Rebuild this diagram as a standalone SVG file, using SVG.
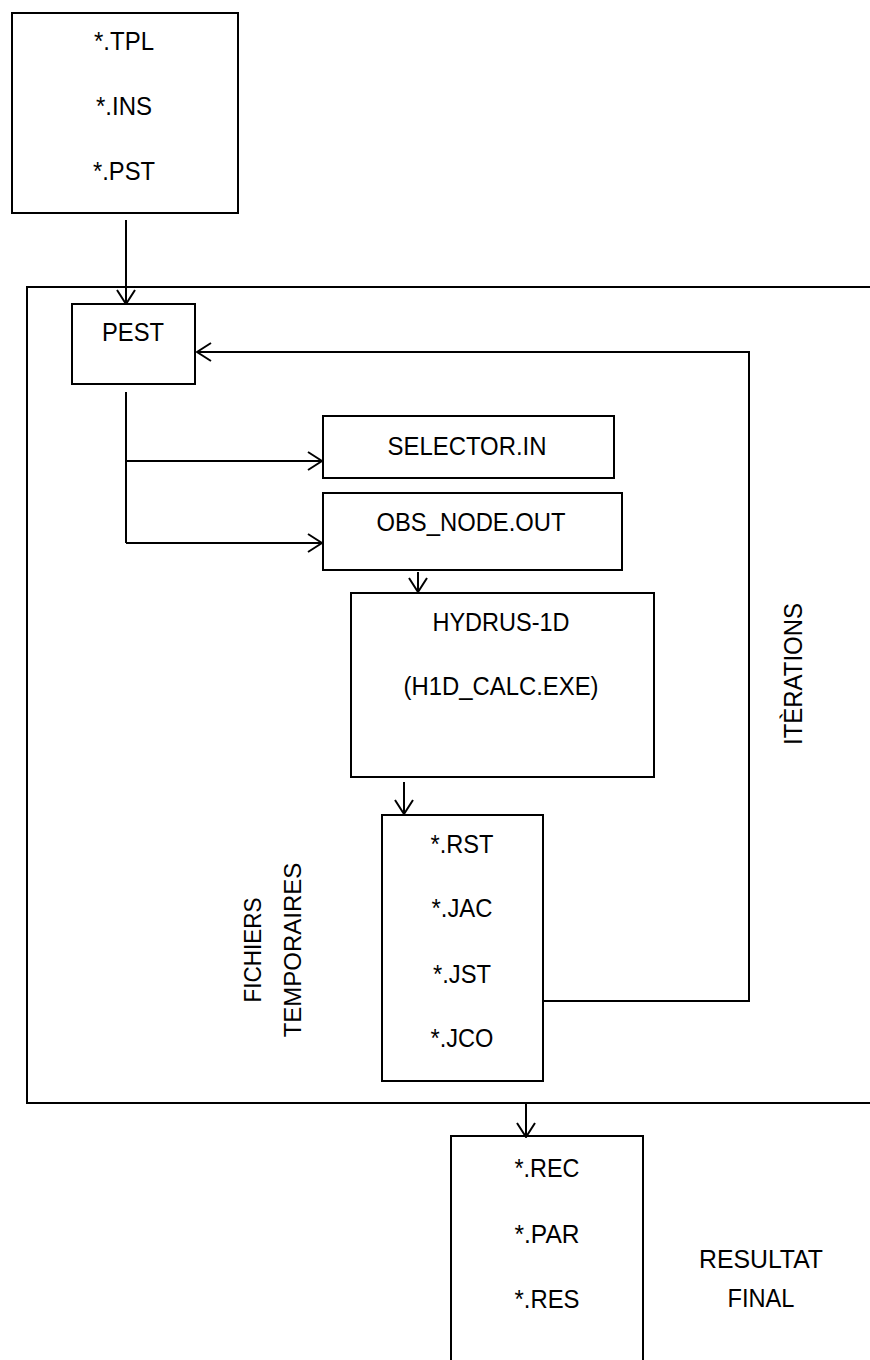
<svg xmlns="http://www.w3.org/2000/svg" width="870" height="1360" viewBox="0 0 870 1360">
<defs>
<style>
.box{fill:#fff;stroke:#000;stroke-width:2}
.ln{fill:none;stroke:#000;stroke-width:2}
.t{font-family:"Liberation Sans",Arial,sans-serif;font-size:25.5px;fill:#000;text-anchor:middle}
.r{font-family:"Liberation Sans",Arial,sans-serif;font-size:24px;fill:#000;text-anchor:middle}
</style>
<marker id="ah" viewBox="0 0 16 20" refX="15" refY="10" markerWidth="16" markerHeight="20" markerUnits="userSpaceOnUse" orient="auto">
<path d="M1,1 L15,10 L1,19" fill="none" stroke="#000" stroke-width="2"/>
</marker>
</defs>
<rect width="870" height="1360" fill="#fff"/>
<g id="outer"><rect class="box" x="27" y="287" width="860" height="816" fill="none"/></g>
<g id="inputs">
<rect class="box" x="12" y="13" width="226" height="200"/>
<text class="t" x="124" y="50" textLength="60" lengthAdjust="spacingAndGlyphs">*.TPL</text>
<text class="t" x="124" y="115" textLength="56" lengthAdjust="spacingAndGlyphs">*.INS</text>
<text class="t" x="124" y="180" textLength="62" lengthAdjust="spacingAndGlyphs">*.PST</text>
</g>
<g id="pest">
<rect class="box" x="72" y="304" width="123" height="80"/>
<text class="t" x="133" y="341" textLength="62" lengthAdjust="spacingAndGlyphs">PEST</text>
</g>
<g id="selector">
<rect class="box" x="323" y="416" width="291" height="62"/>
<text class="t" x="467" y="455" textLength="159" lengthAdjust="spacingAndGlyphs">SELECTOR.IN</text>
</g>
<g id="obsnode">
<rect class="box" x="323" y="493" width="299" height="77"/>
<text class="t" x="471" y="531" textLength="189" lengthAdjust="spacingAndGlyphs">OBS_NODE.OUT</text>
</g>
<g id="hydrus">
<rect class="box" x="351" y="593" width="303" height="184"/>
<text class="t" x="501" y="631" textLength="137" lengthAdjust="spacingAndGlyphs">HYDRUS-1D</text>
<text class="t" x="501" y="695" textLength="195" lengthAdjust="spacingAndGlyphs">(H1D_CALC.EXE)</text>
</g>
<g id="temp">
<rect class="box" x="382" y="815" width="161" height="266"/>
<text class="t" x="462" y="853" textLength="63" lengthAdjust="spacingAndGlyphs">*.RST</text>
<text class="t" x="462" y="917" textLength="61" lengthAdjust="spacingAndGlyphs">*.JAC</text>
<text class="t" x="462" y="983" textLength="58" lengthAdjust="spacingAndGlyphs">*.JST</text>
<text class="t" x="462" y="1047" textLength="63" lengthAdjust="spacingAndGlyphs">*.JCO</text>
</g>
<g id="final">
<rect class="box" x="451" y="1136" width="192" height="240"/>
<text class="t" x="547" y="1177" textLength="65" lengthAdjust="spacingAndGlyphs">*.REC</text>
<text class="t" x="547" y="1243" textLength="65" lengthAdjust="spacingAndGlyphs">*.PAR</text>
<text class="t" x="547" y="1308" textLength="65" lengthAdjust="spacingAndGlyphs">*.RES</text>
</g>
<g id="labels">
<text class="r" transform="translate(261,950) rotate(-90)" textLength="105" lengthAdjust="spacingAndGlyphs">FICHIERS</text>
<text class="r" transform="translate(301,950) rotate(-90)">TEMPORAIRES</text>
<text class="t" transform="translate(802,674) rotate(-90)" textLength="142" lengthAdjust="spacingAndGlyphs">ITÈRATIONS</text>
<text class="t" x="761" y="1268" textLength="124" lengthAdjust="spacingAndGlyphs">RESULTAT</text>
<text class="t" x="761" y="1307" textLength="67" lengthAdjust="spacingAndGlyphs">FINAL</text>
</g>
<g id="connectors">
<line class="ln" x1="126" y1="220" x2="126" y2="304" marker-end="url(#ah)"/>
<line class="ln" x1="126" y1="392" x2="126" y2="543"/>
<line class="ln" x1="126" y1="461" x2="322" y2="461" marker-end="url(#ah)"/>
<line class="ln" x1="126" y1="543" x2="322" y2="543" marker-end="url(#ah)"/>
<line class="ln" x1="418" y1="572" x2="418" y2="592" marker-end="url(#ah)"/>
<line class="ln" x1="404" y1="782" x2="404" y2="814" marker-end="url(#ah)"/>
<path class="ln" d="M543,1001 H749 V352 H197" stroke-width="2.5" marker-end="url(#ah)"/>
<line class="ln" x1="526" y1="1104" x2="526" y2="1137" marker-end="url(#ah)"/>
</g>
</svg>
